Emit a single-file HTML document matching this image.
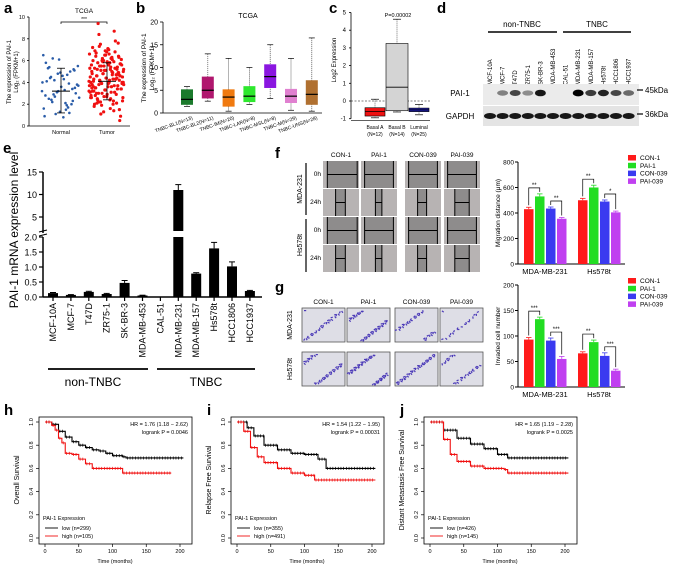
<!DOCTYPE html>
<html><head><meta charset="utf-8"><style>
body{margin:0;background:#fff}
svg{display:block;font-family:"Liberation Sans",sans-serif}
</style></head><body>
<svg id="fig" width="676" height="567" viewBox="0 0 676 567" xmlns="http://www.w3.org/2000/svg"></svg>
<script>
// ---------- data ----------
const aNormal=[3.2,2.1,4.5,5.1,1.3,2.8,3.9,4.2,5.5,0.8,2.5,3.4,4.8,6.5,1.9,2.2,3.0,3.6,4.1,5.0,1.1,2.6,3.3,4.4,5.2,6.1,0.9,1.7,2.9,3.8,4.6,5.3,2.0,3.1,4.0,1.5,2.4,3.5,4.9,5.8,1.2,2.7,3.7,4.3,5.4,2.3,3.2,1.6,4.7,6.2];
const aTumor=[4.1,2.5,5.2,6.3,3.3,4.8,1.4,7.5,3.9,5.6,2.8,4.4,6.0,3.1,5.0,2.2,4.6,6.8,3.6,5.3,1.9,4.0,5.8,3.0,4.9,6.5,2.6,4.3,5.5,3.4,7.1,2.0,4.7,5.9,3.7,6.2,2.4,4.2,5.1,3.2,8.7,1.1,4.5,6.6,3.5,5.4,2.7,4.0,6.1,3.8,5.7,2.9,4.3,7.8,3.0,5.2,1.6,4.6,6.4,3.3,5.0,2.3,4.1,5.6,3.9,6.9,2.1,4.8,5.3,3.6,9.4,0.5,4.4,6.0,3.1,5.5,2.6,4.2,6.7,3.7,5.1,2.8,4.9,7.3,3.4,5.8,1.8,4.3,6.2,3.2,5.4,2.5,4.7,6.5,3.8,5.9,2.2,4.0,7.0,3.5,5.2,1.3,4.5,6.3,3.0,5.7,2.7,4.1,6.8,3.9,5.0,2.4,4.6,7.6,3.3,5.6,2.0,4.2,6.1,3.6,5.3,2.9,4.8,6.6,3.1,5.8,1.5,4.4,7.2,3.7,5.1,2.3,4.0,6.4,3.4,5.5,2.6,4.7,8.4,0.9,5.9,3.2,4.3,6.0,3.8,5.2,2.1,4.9,6.9,3.5];
const bCats=["BL1(N=13)","BL2(N=11)","IM(N=20)","LAR(N=8)","MSL(N=8)","M(N=29)","UNS(N=28)"];
const bMed=[3,5,3.5,3.7,8,3.7,4.1];
const bQ1=[1.8,3.2,1.4,2.4,5.5,2.2,1.8];
const bQ3=[5.2,8,5.2,5.9,10.7,5.3,7.2];
const bMin=[1.4,2.6,0.4,1.9,3.2,0.6,0.4];
const bMax=[5.8,13,12,10,15,12,16.5];
const bColors=["#1b7a2c","#b0176e","#f07a10","#2ee82e","#8a16e0","#e080d0","#b07030"];
const cCats=["Basal A","Basal B","Luminal"];
const cN=["(N=12)","(N=14)","(N=25)"];
const cMed=[-0.6,0.78,-0.5];
const cQ1=[-0.85,-0.55,-0.6];
const cQ3=[-0.38,3.25,-0.4];
const cMin=[-0.95,-0.62,-0.78];
const cMax=[0.1,4.62,-0.2];
const cColors=["#ee1111","#d4d4d4","#1a1aa8"];
const dLanes=["MCF-10A","MCF-7","T47D","ZR75-1","SK-BR-3","MDA-MB-453","CAL-51","MDA-MB-231","MDA-MB-157","Hs578t","HCC1806","HCC1937"];
const dPai=[0,0.45,0.7,0.4,0.9,0,0,1,0.75,0.85,0.7,0.55];
const eVals=[0.13,0.07,0.17,0.1,0.47,0.05,0,11,0.78,1.62,1.02,0.2];
const eErr=[0.02,0.01,0.02,0.02,0.08,0.01,0,1.2,0.03,0.2,0.15,0.02];
const fGroups=["MDA-MB-231","Hs578t"];
const fSeries=["CON-1","PAI-1","CON-039","PAI-039"];
const fColors=["#ff1a1a","#22dd22","#3a3af0","#c040f0"];
const migVals=[[430,530,435,355],[500,600,490,405]];
const migErr=[[15,20,12,10],[15,18,12,10]];
const invVals=[[93,133,91,55],[66,88,61,32]];
const invErr=[[4,4,5,5],[3,4,6,3]];
const kmTicks=[0,50,100,150,200];
const kmYTicks=[0,0.2,0.4,0.6,0.8,1.0];
const hLowT=[0,10,20,30,40,50,60,70,80,90,100,115,120,205];
const hLowS=[1,0.98,0.92,0.87,0.83,0.8,0.78,0.76,0.75,0.73,0.71,0.7,0.69,0.69];
const hHighT=[0,10,15,20,25,30,40,50,60,70,110,115,187];
const hHighS=[1,0.97,0.93,0.86,0.82,0.73,0.72,0.68,0.64,0.6,0.6,0.56,0.56];
const iLowT=[0,15,25,40,60,80,100,120,132,205];
const iLowS=[1,0.95,0.88,0.8,0.76,0.73,0.72,0.68,0.6,0.6];
const iHighT=[0,10,20,30,40,60,80,100,115,205];
const iHighS=[1,0.92,0.78,0.7,0.65,0.6,0.56,0.54,0.5,0.5];
const jLowT=[0,20,40,60,80,100,115,205];
const jLowS=[1,0.93,0.86,0.81,0.77,0.72,0.69,0.69];
const jHighT=[0,20,30,40,60,80,110,115,205];
const jHighS=[1,0.85,0.72,0.66,0.62,0.6,0.59,0.56,0.56];

const NS="http://www.w3.org/2000/svg";
const svg=document.getElementById('fig');
function mk(tag,at,par){const e=document.createElementNS(NS,tag);for(const k in at)e.setAttribute(k,at[k]);(par||svg).appendChild(e);return e;}
function tx(x,y,s,size,extra){const e=mk('text',Object.assign({x:x,y:y,'font-size':size,fill:'#000'},extra||{}));e.textContent=s;return e;}
function ln(x1,y1,x2,y2,w,c,par){return mk('line',{x1:x1,y1:y1,x2:x2,y2:y2,stroke:c||'#000','stroke-width':w||1},par);}
function g(){return mk('g',{});}

// panel letters
[["a",4,13],["b",136,13],["c",329,13],["d",437,13],["e",3,153],["f",275,158],["g",275,292],["h",4,415],["i",207,415],["j",400,415]].forEach(p=>{
 const t=tx(p[1],p[2],p[0],15,{'font-weight':'bold'});
 
 
});

// ---------- panel a ----------
const ga=g();


const aY=v=>126-v*10.9;
ln(29,aY(10),29,126,0.8,'#000',ga);ln(29,126,130,126,0.8,'#000',ga);
[0,2,4,6,8,10].forEach(v=>{ln(27,aY(v),29,aY(v),0.8,'#000',ga);const t=tx(25,aY(v)+2,v,5.5,{'text-anchor':'end'});ga.appendChild(t);});
ga.appendChild(tx(61,134,"Normal",5.5,{'text-anchor':'middle'}));
ga.appendChild(tx(107,134,"Tumor",5.5,{'text-anchor':'middle'}));
ga.appendChild(tx(84,13,"TCGA",6.5,{'text-anchor':'middle'}));
mk('path',{d:'M61,24 V22 H107 V24',fill:'none',stroke:'#000','stroke-width':0.7},ga);
ga.appendChild(tx(84,21,"***",5,{'text-anchor':'middle'}));
ga.appendChild(tx(0,0,"The expression of PAI-1",6,{'text-anchor':'middle',transform:'translate(11,72) rotate(-90)'}));
ga.appendChild(tx(0,0,"Log\u2082 (FPKM+1)",6,{'text-anchor':'middle',transform:'translate(18,72) rotate(-90)'}));
aNormal.forEach((v,i)=>{const jx=42+((i*0.618)%1)*38;const c=mk('circle',{cx:jx,cy:aY(v),r:1.3,fill:'#2a5ca8'},ga);
 });
aTumor.forEach((v,i)=>{const jx=89+((i*0.618)%1)*35;const c=mk('circle',{cx:jx,cy:aY(v),r:1.6,fill:'#f01010'},ga);
 });
[[61,3.2,1.2,5.3],[107,4.1,2.4,5.8]].forEach(m=>{ln(m[0],aY(m[2]),m[0],aY(m[3]),0.8,'#000',ga);ln(m[0]-4,aY(m[2]),m[0]+4,aY(m[2]),0.8,'#000',ga);ln(m[0]-4,aY(m[3]),m[0]+4,aY(m[3]),0.8,'#000',ga);ln(m[0]-9,aY(m[1]),m[0]+9,aY(m[1]),0.9,'#000',ga);});

// ---------- panel b ----------
const gb=g();


const bY=v=>113-v*4.55;
const bX=i=>187+i*20.8;
ln(163,bY(20),163,113,0.8,'#000',gb);ln(163,113,322,113,0.8,'#000',gb);
[0,5,10,15,20].forEach(v=>{ln(160,bY(v),163,bY(v),0.8,'#000',gb);gb.appendChild(tx(158,bY(v)+2.5,v,7,{'text-anchor':'end'}));});
gb.appendChild(tx(248,18,"TCGA",7,{'text-anchor':'middle'}));
gb.appendChild(tx(0,0,"The expression of PAI-1",6.5,{'text-anchor':'middle',transform:'translate(146,68) rotate(-90)'}));
gb.appendChild(tx(0,0,"Log\u2082 (FPKM+1)",6.5,{'text-anchor':'middle',transform:'translate(154,68) rotate(-90)'}));
bCats.forEach((c,i)=>{const x=bX(i);
 ln(x,bY(bMax[i]),x,bY(bMin[i]),0.7,'#555',gb).setAttribute('stroke-dasharray','1.2,0.8');
 ln(x-3,bY(bMax[i]),x+3,bY(bMax[i]),0.7,'#000',gb);ln(x-3,bY(bMin[i]),x+3,bY(bMin[i]),0.7,'#000',gb);
 const r=mk('rect',{x:x-6,y:bY(bQ3[i]),width:12,height:bY(bQ1[i])-bY(bQ3[i]),fill:bColors[i]},gb);
 
 ln(x-6,bY(bMed[i]),x+6,bY(bMed[i]),1.2,'#000',gb);
 gb.appendChild(tx(0,0,"TNBC-"+c,5,{'text-anchor':'end',transform:'translate('+(x+6)+',119) rotate(-20)'}));
});

// ---------- panel c ----------
const gc=g();


const cY=v=>101-v*17.7;
const cX=i=>375+i*22;
ln(351,cY(5),351,cY(-1),0.8,'#000',gc);ln(351,cY(-1)+2,430,cY(-1)+2,0.6,'#000',gc);
[-1,0,1,2,3,4,5].forEach(v=>{ln(349,cY(v),351,cY(v),0.8,'#000',gc);gc.appendChild(tx(346,cY(v)+2,v,6,{'text-anchor':'end'}));});
ln(351,cY(0),430,cY(0),0.6,'#000',gc).setAttribute('stroke-dasharray','2,1.5');
gc.appendChild(tx(0,0,"Log2 Expression",6,{'text-anchor':'middle',transform:'translate(336,60) rotate(-90)'}));
gc.appendChild(tx(398,17,"P=0.00002",5.5,{'text-anchor':'middle'}));
cCats.forEach((c,i)=>{const x=cX(i);const w=i==1?11:10;
 ln(x,cY(cMax[i]),x,cY(cMin[i]),0.7,'#555',gc).setAttribute('stroke-dasharray','1.2,0.8');
 ln(x-4,cY(cMax[i]),x+4,cY(cMax[i]),0.7,'#000',gc);ln(x-4,cY(cMin[i]),x+4,cY(cMin[i]),0.7,'#000',gc);
 const r=mk('rect',{x:x-w,y:cY(cQ3[i]),width:2*w,height:cY(cQ1[i])-cY(cQ3[i]),fill:cColors[i],stroke:'#000','stroke-width':0.6},gc);
 
 ln(x-w,cY(cMed[i]),x+w,cY(cMed[i]),0.8,'#000',gc);
 gc.appendChild(tx(x,129,c,5,{'text-anchor':'middle'}));gc.appendChild(tx(x,136,cN[i],5,{'text-anchor':'middle'}));
});

// ---------- panel d ----------
const gd=g();


gd.appendChild(tx(522,27,"non-TNBC",8,{'text-anchor':'middle'}));
gd.appendChild(tx(597,27,"TNBC",8,{'text-anchor':'middle'}));
ln(488,32,557,32,1.5,'#000',gd);ln(563,32,631,32,1.5,'#000',gd);
const dX=i=>490+i*12.6;
dLanes.forEach((l,i)=>{gd.appendChild(tx(0,0,l,6,{'text-anchor':'start',transform:'translate('+(dX(i)+2)+',85) rotate(-90)'}));});
mk('rect',{x:483,y:84,width:156,height:21,fill:'#ebebeb'},gd);
mk('rect',{x:483,y:106,width:156,height:20,fill:'#e4e4e4'},gd);
dLanes.forEach((l,i)=>{if(dPai[i]>0){const e=mk('ellipse',{cx:dX(i),cy:93,rx:5.5,ry:2.2+dPai[i]*1.2,fill:'#000',opacity:dPai[i]},gd);
 }
 const e2=mk('ellipse',{cx:dX(i),cy:116,rx:6,ry:3,fill:'#000',opacity:0.9},gd);
 });
gd.appendChild(tx(460,96,"PAI-1",8,{'text-anchor':'middle'}));
gd.appendChild(tx(460,119,"GAPDH",8,{'text-anchor':'middle'}));
ln(637,90,643,90,1.2,'#000',gd);ln(637,114,643,114,1.2,'#000',gd);
gd.appendChild(tx(645,93,"45kDa",8));gd.appendChild(tx(645,117,"36kDa",8));

// ---------- panel e ----------
const ge=g();


const eYlow=v=>297-v*30;
const eYup=v=>172+(15-v)*4.5;
const eX=i=>53+i*17.9;
ln(43,eYup(15),43,233,1.5,'#000',ge);ln(43,237,43,297,1.5,'#000',ge);
ln(39,232,47,230,1,'#000',ge);ln(39,236,47,234,1,'#000',ge);
ln(43,297,262,297,1.5,'#000',ge);
[5,10,15].forEach(v=>{ln(39,eYup(v),43,eYup(v),1.2,'#000',ge);ge.appendChild(tx(37,eYup(v)+3.5,v,9,{'text-anchor':'end'}));});
[0,0.5,1,1.5,2].forEach(v=>{ln(39,eYlow(v),43,eYlow(v),1.2,'#000',ge);ge.appendChild(tx(37,eYlow(v)+3.5,v.toFixed(1),9,{'text-anchor':'end'}));});
ge.appendChild(tx(0,0,"PAI-1 mRNA expression level",12,{'text-anchor':'middle',transform:'translate(18,230) rotate(-90)'}));
dLanes.forEach((l,i)=>{const x=eX(i);const v=eVals[i];
 ln(x,297,x,301,1.2,'#000',ge);
 ge.appendChild(tx(0,0,l,9,{'text-anchor':'end',transform:'translate('+(x+3)+',303) rotate(-90)'}));
 if(v<=0)return;
 if(v>2){
  const r1=mk('rect',{x:x-5,y:eYlow(2),width:10,height:297-eYlow(2),fill:'#000'},ge);
  
  const r2=mk('rect',{x:x-5,y:eYup(v),width:10,height:231-eYup(v),fill:'#000'},ge);
  
  ln(x,eYup(v+eErr[i]),x,eYup(v),1,'#000',ge);ln(x-3,eYup(v+eErr[i]),x+3,eYup(v+eErr[i]),1,'#000',ge);
 } else {
  const r=mk('rect',{x:x-5,y:eYlow(v),width:10,height:297-eYlow(v),fill:'#000'},ge);
  
  ln(x,eYlow(v+eErr[i]),x,eYlow(v),1,'#000',ge);ln(x-3,eYlow(v+eErr[i]),x+3,eYlow(v+eErr[i]),1,'#000',ge);
 }
});
ln(48,369,148,369,1.8,'#000',ge);ln(157,369,255,369,1.8,'#000',ge);
ge.appendChild(tx(93,386,"non-TNBC",12,{'text-anchor':'middle'}));
ge.appendChild(tx(206,386,"TNBC",12,{'text-anchor':'middle'}));

// ---------- panel f images ----------
const gf=g();


const fCols=[323,361,405,444];const fRowsY=[161,189,217,245];const cw=36,rh=27;
const gaps=[[[0.12,0.95],[0.35,0.62]],[[0.1,0.9],[0.4,0.58]],[[0.1,0.9],[0.35,0.6]],[[0.1,0.9],[0.3,0.7]]];
fSeries.forEach((s,c)=>{gf.appendChild(tx(fCols[c]+cw/2,157,s,6.5,{'text-anchor':'middle'}));
 fRowsY.forEach((y,r)=>{const x=fCols[c];
  const im=mk('rect',{x:x,y:y,width:cw,height:rh,fill:'#b7b3b3'},gf);
  
  const gp=gaps[c][r%2];const x1=x+gp[0]*cw,x2=x+gp[1]*cw;
  mk('rect',{x:x1,y:y,width:x2-x1,height:rh,fill:'#8e8c8c'},gf);
  ln(x1,y,x1,y+rh,1,'#000',gf);ln(x2,y,x2,y+rh,1,'#000',gf);ln(x1,y+rh/2,x2,y+rh/2,1,'#000',gf);
 });});
[["0h",176],["24h",204],["0h",232],["24h",260]].forEach(a=>gf.appendChild(tx(321,a[1],a[0],6.5,{'text-anchor':'end'})));
ln(306,163,306,215,1.2,'#000',gf);ln(306,219,306,272,1.2,'#000',gf);
gf.appendChild(tx(0,0,"MDA-231",7,{'text-anchor':'middle',transform:'translate(302,189) rotate(-90)'}));
gf.appendChild(tx(0,0,"Hs578t",7,{'text-anchor':'middle',transform:'translate(302,245) rotate(-90)'}));

// ---------- panel g images ----------
const gg=g();


const gCols=[302,347,395,440];const gRows=[308,352];
fSeries.forEach((s,c)=>{gg.appendChild(tx(gCols[c]+21.5,304,s,6.5,{'text-anchor':'middle'}));
 gRows.forEach((y,r)=>{const x=gCols[c];
  const im=mk('rect',{x:x,y:y,width:43,height:34,fill:'#dedee6',stroke:'#555','stroke-width':0.8},gg);
  
  const n=[28,45,30,18][c]+(r?10:0);
  for(let k=0;k<n;k++){const px=x+2+((k*0.618+c*0.13+r*0.3)%1)*39;const py=y+2+((k*0.382+c*0.21)%1)*30;
   mk('rect',{x:px,y:py,width:2.2,height:1.2,fill:'#4b3ab8',transform:'rotate('+(k*37%180)+' '+px+' '+py+')'},gg);}
 });});
gg.appendChild(tx(0,0,"MDA-231",7,{'text-anchor':'middle',transform:'translate(292,325) rotate(-90)'}));
gg.appendChild(tx(0,0,"Hs578t",7,{'text-anchor':'middle',transform:'translate(292,369) rotate(-90)'}));

// ---------- grouped bar charts ----------
function groupBar(name,vals,errs,maxV,ticks,y0,h,ylabel,legY,stars){
 const G=g();
 
 
 const Y=v=>y0-v/maxV*h;const gx=[524,578];
 ln(518,y0-h,518,y0,1,'#000',G);ln(518,y0,625,y0,1,'#000',G);
 ticks.forEach(v=>{ln(515,Y(v),518,Y(v),1,'#000',G);G.appendChild(tx(514,Y(v)+2.5,v,6.5,{'text-anchor':'end'}));});
 G.appendChild(tx(0,0,ylabel,6.5,{'text-anchor':'middle',transform:'translate(500,'+(y0-h/2)+') rotate(-90)'}));
 fGroups.forEach((gn,gi)=>{G.appendChild(tx(gx[gi]+21,y0+10,gn,7.5,{'text-anchor':'middle'}));
  fSeries.forEach((s,si)=>{const x=gx[gi]+si*11;const v=vals[gi][si];
   const r=mk('rect',{x:x,y:Y(v),width:9.5,height:y0-Y(v),fill:fColors[si]},G);
   
   const e=errs[gi][si];ln(x+4.75,Y(v+e),x+4.75,Y(v),0.8,fColors[si],G);ln(x+2,Y(v+e),x+7.5,Y(v+e),0.8,fColors[si],G);
  });
  stars[gi].forEach(st=>{const a=st[0],b=st[1];const xa=gx[gi]+a*11+4.75,xb=gx[gi]+b*11+4.75;
   const top=Y(Math.max(vals[gi][a]+errs[gi][a],vals[gi][b]+errs[gi][b]))-6;
   mk('path',{d:'M'+xa+','+(Y(vals[gi][a]+errs[gi][a])-2)+' V'+top+' H'+xb+' V'+(Y(vals[gi][b]+errs[gi][b])-2),fill:'none',stroke:'#000','stroke-width':0.7},G);
   G.appendChild(tx((xa+xb)/2,top-1,st[2],6,{'text-anchor':'middle'}));});
 });
 fSeries.forEach((s,si)=>{const y=legY+si*7.8;mk('rect',{x:628,y:y-5,width:8,height:5.5,fill:fColors[si]},G);G.appendChild(tx(640,y,s,6.5));});
}
groupBar('panel-f-migration-chart',migVals,migErr,800,[0,200,400,600,800],264,102,"Migration distance (\u03bcm)",160,[[[0,1,"**"],[2,3,"**"]],[[0,1,"**"],[2,3,"*"]]]);
groupBar('panel-g-invasion-chart',invVals,invErr,200,[0,50,100,150,200],387,102,"Invaded cell number",283,[[[0,1,"***"],[2,3,"***"]],[[0,1,"**"],[2,3,"***"]]]);

// ---------- KM panels ----------
function km(name,bx,ylab,lowT,lowS,highT,highS,hr,lr,nl,nh){
 const G=g();
 
 
 const X=t=>bx+6+t*0.675;const Y=s=>538-s*116;
 mk('rect',{x:bx,y:417,width:153,height:127,fill:'none',stroke:'#000','stroke-width':0.8},G);
 kmTicks.forEach(t=>{ln(X(t),544,X(t),547,0.7,'#000',G);G.appendChild(tx(X(t),553,t,5.5,{'text-anchor':'middle'}));});
 kmYTicks.forEach(s=>{ln(bx-3,Y(s),bx,Y(s),0.7,'#000',G);G.appendChild(tx(0,0,s.toFixed(1),5.5,{'text-anchor':'middle',transform:'translate('+(bx-6)+','+Y(s)+') rotate(-90)'}));});
 G.appendChild(tx(bx+76,563,"Time (months)",5.5,{'text-anchor':'middle'}));
 G.appendChild(tx(0,0,ylab,7,{'text-anchor':'middle',transform:'translate('+(bx-20)+',480) rotate(-90)'}));
 G.appendChild(tx(bx+149,426,hr,5.5,{'text-anchor':'end'}));
 G.appendChild(tx(bx+149,434,lr,5.5,{'text-anchor':'end'}));
 G.appendChild(tx(bx+4,520,"PAI-1 Expression",5.5));
 ln(bx+6,528,bx+19,528,0.9,'#000',G);G.appendChild(tx(bx+23,530,"low (n="+nl+")",5.5));
 ln(bx+6,536,bx+19,536,0.9,'#f01010',G);G.appendChild(tx(bx+23,538,"high (n="+nh+")",5.5));
 [[lowT,lowS,'#000','low'],[highT,highS,'#f01010','high']].forEach(c=>{
  let d='M'+X(c[0][0])+','+Y(c[1][0]);
  for(let k=1;k<c[0].length;k++){d+=' H'+X(c[0][k])+' V'+Y(c[1][k]);}
  const p=mk('path',{d:d,fill:'none',stroke:c[2],'stroke-width':1.1},G);
  
  for(let k=0;k<c[0].length-1;k++){for(let t=c[0][k]+2;t<c[0][k+1];t+=4){mk('line',{x1:X(t),y1:Y(c[1][k])-1.5,x2:X(t),y2:Y(c[1][k])+1.5,stroke:c[2],'stroke-width':0.7},G);}}
 });
}
km('panel-h-km-overall',39,"Overall Survival",hLowT,hLowS,hHighT,hHighS,"HR = 1.76 (1.18 \u2212 2.62)","logrank P = 0.0046",299,105);
km('panel-i-km-relapse',231,"Relapse Free Survival",iLowT,iLowS,iHighT,iHighS,"HR = 1.54 (1.22 \u2212 1.95)","logrank P = 0.00031",355,491);
km('panel-j-km-metastasis',424,"Distant Metastasis Free Survival",jLowT,jLowS,jHighT,jHighS,"HR = 1.65 (1.19 \u2212 2.28)","logrank P = 0.0025",426,145);
</script>
</body></html>
